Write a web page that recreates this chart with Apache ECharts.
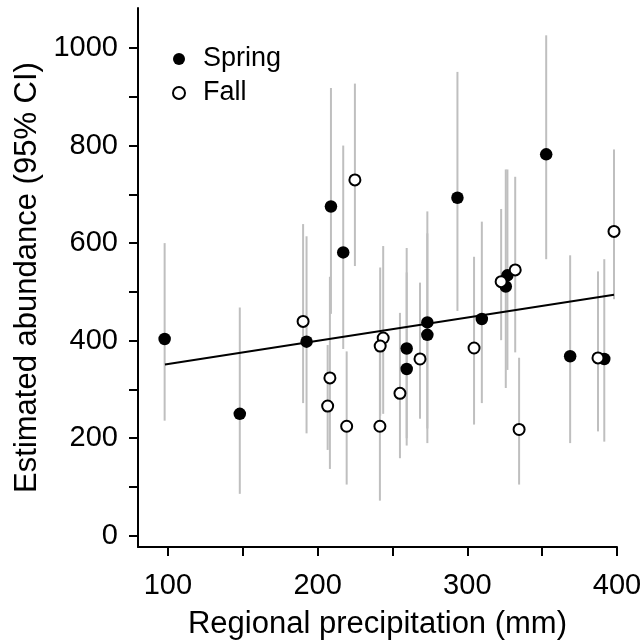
<!DOCTYPE html>
<html>
<head>
<meta charset="utf-8">
<script src="https://cdn.jsdelivr.net/npm/echarts@6/dist/echarts.min.js"></script>
<style>
html,body{margin:0;padding:0;background:#fff;}
#chart{width:644px;height:640px;}
</style>
</head>
<body>
<div id="chart"></div>
<script>
// Spring (filled) points: precipitation, abundance, lower CI, upper CI
var springX  = [97.8, 148, 192.6, 208.9, 217.1, 259.5, 259.5, 273.3, 273.3, 293.4, 309.7, 326.8, 325.7, 352.7, 368.7, 391.5];
var springY  = [403.5, 250, 398, 675, 581, 384, 342, 437.5, 412, 693, 444.5, 534, 511, 782, 368, 362.5];
var springLo = [236, 86, 210, 455, 383, 200, 185, 190, 220, 461, 272, 340, 303, 567, 190, 193];
var springHi = [600, 468, 614, 918, 800, 590, 540, 665, 620, 951, 644, 751, 751, 1026, 575, 567];

// Fall (open) points
var fallX  = [190.3, 208.2, 206.7, 219.4, 224.9, 243.8, 241.8, 241.6, 255, 268.4, 304.5, 322.6, 332, 334.6, 387.3, 398];
var fallY  = [439.5, 323.6, 266, 224.6, 729.6, 405.5, 389, 224.6, 292, 362.5, 385, 521, 545, 218, 364.6, 624];
var fallLo = [272, 137, 176, 105, 553, 250, 246, 72, 159, 240, 228, 401, 376, 105, 214, 485];
var fallHi = [639, 531, 391, 378, 927, 594, 550, 380, 457, 519, 572, 670, 736, 365, 542, 792];

// Fitted regression line end points
var fitX = [98, 398];
var fitY = [351, 494];

// Axis ticks and labels
var xTicks  = [100, 150, 200, 250, 300, 350, 400];
var xLabels = [100, 200, 300, 400];
var yTicks  = [0, 100, 200, 300, 400, 500, 600, 700, 800, 900, 1000];
var yLabels = [0, 200, 400, 600, 800, 1000];

function zip(a, b) { return a.map(function (v, i) { return [v, b[i]]; }); }
function zip3(a, b, c) { return a.map(function (v, i) { return [v, b[i], c[i]]; }); }

var barData = zip3(springX, springLo, springHi).concat(zip3(fallX, fallLo, fallHi));

var FONT = 'Liberation Sans, Arial, sans-serif';
function plain(v) { return String(v); }

var chart = echarts.init(document.getElementById('chart'), null, {renderer: 'canvas'});
chart.setOption({
  animation: false,
  backgroundColor: '#ffffff',
  grid: {left: 138, right: 27, top: 8, bottom: 93, containLabel: false, outerBoundsMode: 'none'},
  legend: {
    orient: 'vertical',
    left: 167, top: 40,
    itemWidth: 12, itemHeight: 12, itemGap: 6,
    data: ['Spring', 'Fall'],
    textStyle: {fontFamily: FONT, fontSize: 27, color: '#000', lineHeight: 28, padding: [0, 0, 0, 13]}
  },
  xAxis: {
    type: 'value', min: 80, max: 400,
    name: 'Regional precipitation (mm)', nameLocation: 'middle', nameGap: 62,
    nameTextStyle: {fontFamily: FONT, fontSize: 31, color: '#000'},
    axisLine: {show: true, onZero: false, lineStyle: {color: '#000', width: 2}},
    axisTick: {show: true, length: 9, customValues: xTicks, lineStyle: {color: '#000', width: 2}},
    axisLabel: {customValues: xLabels, formatter: plain, fontFamily: FONT, fontSize: 29, color: '#000', margin: 24},
    splitLine: {show: false}
  },
  yAxis: {
    type: 'value', min: -23, max: 1082,
    name: 'Estimated abundance (95% CI)', nameLocation: 'middle', nameGap: 94,
    nameTextStyle: {fontFamily: FONT, fontSize: 31, color: '#000'},
    axisLine: {show: true, onZero: false, lineStyle: {color: '#000', width: 2}},
    axisTick: {show: true, length: 9, customValues: yTicks, lineStyle: {color: '#000', width: 2}},
    axisLabel: {customValues: yLabels, formatter: plain, fontFamily: FONT, fontSize: 29, color: '#000', margin: 20},
    splitLine: {show: false}
  },
  series: [
    {
      name: 'CI', type: 'custom', z: 1, silent: true,
      encode: {x: 0, y: [1, 2]},
      data: barData,
      renderItem: function (params, api) {
        var p1 = api.coord([api.value(0), api.value(1)]);
        var p2 = api.coord([api.value(0), api.value(2)]);
        return {
          type: 'line',
          shape: {x1: p1[0], y1: p1[1], x2: p2[0], y2: p2[1]},
          style: {stroke: '#bfbfbf', lineWidth: 2}
        };
      }
    },
    {
      name: 'Fit', type: 'line', z: 2, symbol: 'none',
      data: zip(fitX, fitY),
      lineStyle: {color: '#000', width: 2}
    },
    {
      name: 'Spring', type: 'scatter', z: 3,
      symbol: 'circle', symbolSize: 12.5,
      itemStyle: {color: '#000', opacity: 1},
      data: zip(springX, springY)
    },
    {
      name: 'Fall', type: 'scatter', z: 4,
      symbol: 'circle', symbolSize: 11,
      itemStyle: {color: '#fff', borderColor: '#000', borderWidth: 2, opacity: 1},
      data: zip(fallX, fallY)
    }
  ]
});
</script>
</body>
</html>
